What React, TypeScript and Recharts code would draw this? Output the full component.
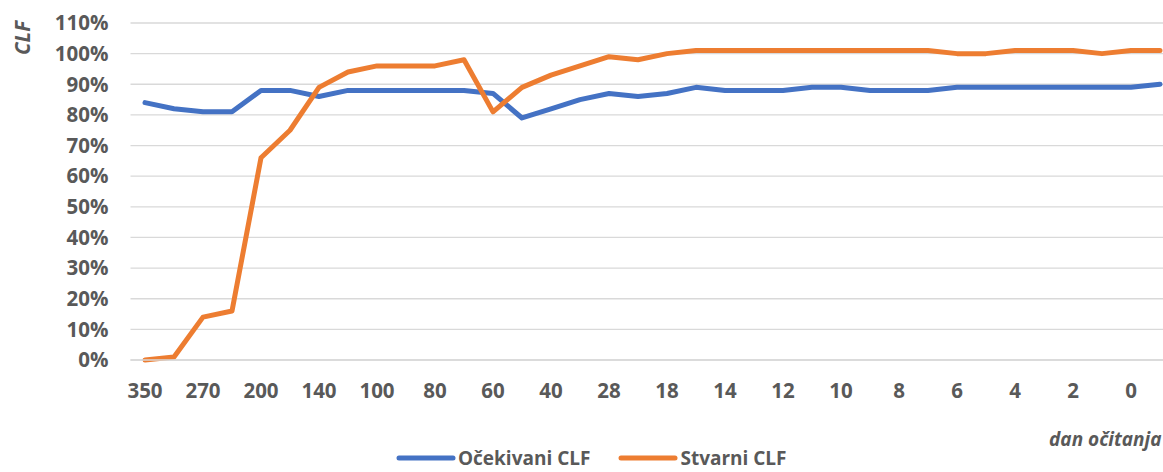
import React from 'react';
import { LineChart, Line, XAxis, YAxis, CartesianGrid, Legend } from 'recharts';

const days = ['350','300','270','240','200','170','140','120','100','90','80','70','60','50','40','30','28','21','18','16','14','13','12','11','10','9','8','7','6','5','4','3','2','1','0','-1'];
const expectedCLF = [84,82,81,81,88,88,86,88,88,88,88,88,87,79,82,85,87,86,87,89,88,88,88,89,89,88,88,88,89,89,89,89,89,89,89,90];
const actualCLF = [0,1,14,16,66,75,89,94,96,96,96,98,81,89,93,96,99,98,100,101,101,101,101,101,101,101,101,101,100,100,101,101,101,100,101,101];
const yTicks = [0,10,20,30,40,50,60,70,80,90,100,110];
const seriesNames = ['Očekivani CLF', 'Stvarni CLF'];

const data = days.map((d, i) => ({ day: d, expected: expectedCLF[i], actual: actualCLF[i] }));

const FONT = '"Open Sans", "Liberation Sans", sans-serif';
const GRAY = '#595959';
const BLUE = '#4472C4';
const ORANGE = '#ED7D31';

const renderLegend = (props: any) => {
  const { payload } = props;
  return (
    <div style={{ display: 'flex', justifyContent: 'center', alignItems: 'center', height: 22, paddingLeft: 8, fontFamily: FONT }}>
      {payload.map((entry: any, idx: number) => (
        <div key={idx} style={{ display: 'flex', alignItems: 'center', marginRight: idx === 0 ? 28 : 0 }}>
          <svg width={60} height={8} style={{ marginRight: 2 }}>
            <line x1={3} y1={4} x2={57} y2={4} stroke={entry.color} strokeWidth={5} strokeLinecap="round" />
          </svg>
          <span style={{ fontSize: 19, fontWeight: 700, color: GRAY, lineHeight: '22px' }}>{entry.value}</span>
        </div>
      ))}
    </div>
  );
};

export default function App() {
  return (
    <div style={{ position: 'fixed', left: 0, top: 0, width: 1163, height: 472, overflow: 'hidden', background: '#fff' }}>
      <LineChart width={1200} height={472} data={data} margin={{ top: 23, right: 25.5, left: 0, bottom: 0 }}>
        <CartesianGrid vertical={false} stroke="#D9D9D9" strokeWidth={1.3} />
        <XAxis
          dataKey="day"
          interval={1}
          padding={{ left: 14.5, right: 14.5 }}
          axisLine={{ stroke: '#D9D9D9', strokeWidth: 1.3 }}
          tickLine={false}
          tickSize={0}
          tickMargin={23}
          height={90}
          tick={{ fill: GRAY, fontSize: 20.5, fontWeight: 700, fontFamily: FONT }}
          label={{
            content: (p: any) => {
              const vb = p.viewBox;
              return (
                <text x={vb.x + vb.width - 13} y={vb.y + 86} textAnchor="end" fill={GRAY}
                  style={{ fontSize: 19, fontWeight: 700, fontStyle: 'italic', fontFamily: FONT }}>dan očitanja</text>
              );
            },
          }}
        />
        <YAxis
          domain={[0, 110]}
          ticks={yTicks}
          width={130.5}
          axisLine={false}
          tickLine={false}
          tickSize={0}
          tickMargin={22}
          tickFormatter={(v: number) => `${v}%`}
          tick={{ fill: GRAY, fontSize: 20.5, fontWeight: 700, fontFamily: FONT }}
          label={{
            content: (p: any) => {
              const vb = p.viewBox;
              const cx = vb.x + 21.5;
              const cy = vb.y + 15;
              return (
                <text x={cx} y={cy} textAnchor="middle" dominantBaseline="central" fill={GRAY}
                  transform={`rotate(-90 ${cx} ${cy})`}
                  style={{ fontSize: 20.5, fontWeight: 700, fontStyle: 'italic', fontFamily: FONT }}>CLF</text>
              );
            },
          }}
        />
        <Legend verticalAlign="bottom" content={renderLegend} wrapperStyle={{ bottom: 3 }} />
        <Line type="linear" dataKey="expected" name={seriesNames[0]} stroke={BLUE} strokeWidth={5} dot={false} strokeLinecap="round" strokeLinejoin="round" isAnimationActive={false} />
        <Line type="linear" dataKey="actual" name={seriesNames[1]} stroke={ORANGE} strokeWidth={5} dot={false} strokeLinecap="round" strokeLinejoin="round" isAnimationActive={false} />
      </LineChart>
    </div>
  );
}
